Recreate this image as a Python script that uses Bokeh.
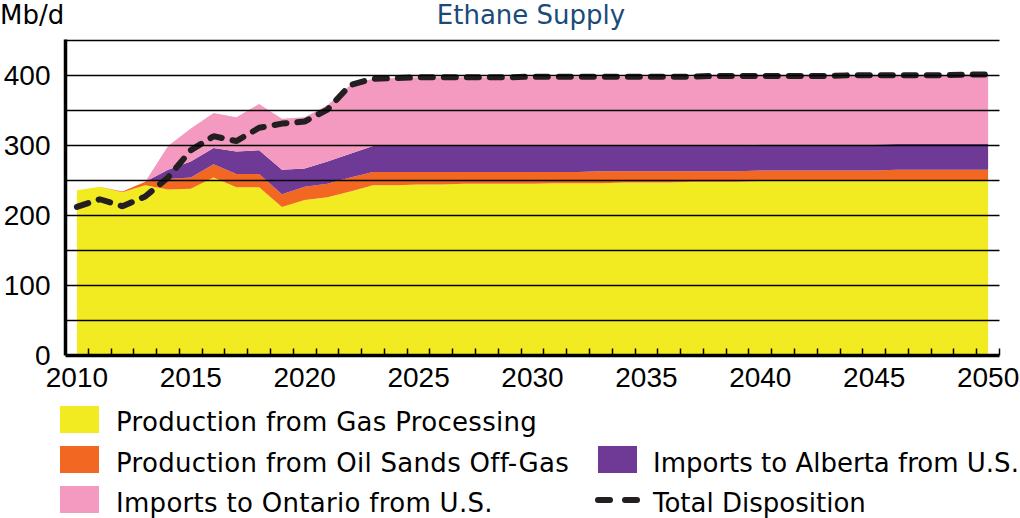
from bokeh.plotting import figure
from bokeh.models import ColumnDataSource, Range1d, FixedTicker, Div, GlobalInlineStyleSheet
from bokeh.layouts import column
from bokeh.embed import file_html
from bokeh.resources import INLINE

# ---------------- data (Mb/d) ----------------
years = list(range(2010, 2051))
gas_processing = [236, 241, 233, 243, 237, 238, 254, 240, 240, 212, 222, 226, 234, 243,
                  243, 244, 244, 245, 245, 245, 245, 246, 246, 246, 247, 247, 247, 248,
                  248, 248, 249, 249, 249, 249, 250, 250, 250, 250, 250, 250, 250]
oil_sands = [0, 0, 1, 5, 15, 16, 19, 19, 19, 18, 19, 19, 20, 19,
             19, 18, 18, 17, 17, 17, 17, 16, 16, 17, 16, 16, 16, 15,
             15, 15, 15, 15, 15, 15, 14, 14, 15, 15, 15, 15, 15]
alberta_imports = [0, 0, 0, 0, 13, 23, 23, 32, 34, 35, 26, 32, 34, 37,
                   37, 38, 38, 38, 38, 38, 38, 38, 38, 36, 37, 37, 37, 37,
                   37, 37, 37, 37, 37, 37, 37, 37, 37, 37, 37, 37, 37]
ontario_imports = [0, 0, 0, 0, 34, 47, 50, 49, 66, 73, 73, 80, 98, 96,
                   97, 97, 97, 97, 97, 97, 98, 98, 98, 99, 98, 98, 98, 98,
                   99, 99, 98, 98, 98, 98, 99, 99, 98, 98, 98, 99, 99]
total_disposition = [212, 223, 213, 227, 254, 293, 313, 306, 325, 331, 334, 351, 386, 395,
                     396, 397, 397, 397, 397, 397, 398, 398, 398, 398, 398, 398, 398, 398,
                     399, 399, 399, 399, 399, 399, 400, 400, 400, 400, 400, 401, 401]

series_names = ["Production from Gas Processing", "Production from Oil Sands Off-Gas",
                "Imports to Alberta from U.S.", "Imports to Ontario from U.S."]
total_name = "Total Disposition"
title_text = "Ethane Supply"
unit_text = "Mb/d"
x_label_years = [2010, 2015, 2020, 2025, 2030, 2035, 2040, 2045, 2050]
y_tick_values = [0, 100, 200, 300, 400]
grid_values = [50, 100, 150, 200, 250, 300, 350, 400, 450]

colors = ["#f3eb22", "#f26722", "#6f3996", "#f49ac1"]
dash_color = "#231f20"
title_color = "#1b4a78"
font = "DejaVu Sans"

src = ColumnDataSource(dict(year=years, gas=gas_processing, oil=oil_sands,
                            alberta=alberta_imports, ontario=ontario_imports,
                            total=total_disposition))

# ---------------- helpers for the HTML text blocks ----------------
def span(txt, left, top, color="black", center=False, extra=""):
    tr = "transform:translateX(-50%);" if center else ""
    return (f'<span style="position:absolute;left:{left}px;top:{top}px;{tr}'
            f'color:{color};{extra}">{txt}</span>')

box_style = (f"position:relative;width:1020px;font-family:'{font}';font-size:26px;"
             "white-space:nowrap;overflow:visible;")

# ---------------- header (unit + title) ----------------
header = Div(text=(f'<div style="{box_style}line-height:24px;height:30px;">'
                   + span(unit_text, 0, 3) + span(title_text, 531, 3, title_color, True)
                   + '</div>'),
             width=1020, height=30, margin=0)

# ---------------- chart ----------------
p = figure(width=1020, height=372, x_range=Range1d(2009.5, 2050.5), y_range=Range1d(0, 451),
           output_backend="svg", toolbar_location=None,
           min_border_left=63, min_border_right=21, min_border_top=9, min_border_bottom=47)
p.outline_line_color = None

areas = p.varea_stack(stackers=["gas", "oil", "alberta", "ontario"], x="year",
                      color=colors, source=src)
tot = p.line("year", "total", source=src, line_color=dash_color, line_width=6,
             line_dash="12 11", line_cap="round")

p.xgrid.visible = False
p.ygrid.ticker = FixedTicker(ticks=grid_values)
p.ygrid.grid_line_color = "black"
p.ygrid.grid_line_width = 1.5
p.ygrid.level = "guide"

p.yaxis.ticker = FixedTicker(ticks=y_tick_values)
p.xaxis.ticker = FixedTicker(ticks=x_label_years, minor_ticks=[y + 0.5 for y in years])
for ax in (p.xaxis[0], p.yaxis[0]):
    ax.axis_line_width = 3.5
    ax.axis_line_color = "black"
    ax.major_tick_in = 0
    ax.major_tick_out = 0
    ax.major_label_text_font = "Liberation Sans"
    ax.major_label_text_font_size = "28px"
    ax.major_label_text_color = "black"
p.yaxis.minor_tick_in = 0
p.yaxis.minor_tick_out = 0
p.yaxis.major_label_standoff = 15
p.xaxis.minor_tick_in = 7
p.xaxis.minor_tick_out = 0
p.xaxis.minor_tick_line_width = 1.5
p.xaxis.minor_tick_line_color = "black"
p.xaxis.major_label_standoff = 12

# ---------------- legend (HTML block under the chart) ----------------
def swatch(left, top, color):
    return (f'<div style="position:absolute;left:{left}px;top:{top}px;width:39px;'
            f'height:27px;background:{color};"></div>')

def dash(left, top):
    return (f'<div style="position:absolute;left:{left}px;top:{top}px;width:18px;'
            f'height:6px;border-radius:3px;background:{dash_color};"></div>')

ls = "letter-spacing:0.3px;"
legend_html = (f'<div style="{box_style}line-height:30px;height:114px;">'
               + swatch(60, 4, colors[0]) + span(series_names[0], 116, 5, extra=ls)
               + swatch(60, 44, colors[1]) + span(series_names[1], 116, 46, extra=ls)
               + swatch(60, 84, colors[3]) + span(series_names[3], 116, 86, extra=ls)
               + swatch(598, 44, colors[2]) + span(series_names[2], 653, 46)
               + dash(595, 95) + dash(622, 95) + span(total_name, 653, 86)
               + '</div>')
legend_div = Div(text=legend_html, width=1020, height=114, margin=0)

layout = column(header, p, legend_div, spacing=0)
layout.stylesheets = [GlobalInlineStyleSheet(css="body { margin: 0; }")]

open("out.html", "w").write(file_html(layout, INLINE))
